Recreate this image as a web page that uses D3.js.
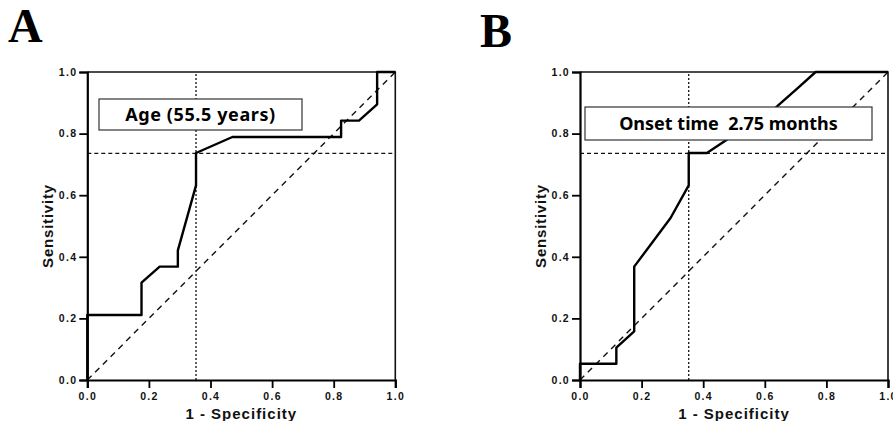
<!DOCTYPE html>
<html>
<head>
<meta charset="utf-8">
<script src="https://cdn.jsdelivr.net/npm/d3@7"></script>
<style>
  body { margin: 0; background: #fff; }
  svg { display: block; }
</style>
</head>
<body>
<div id="chart"></div>
<script>
// ROC curve A (age)
var fprA = [0, 0, 0.176, 0.176, 0.235, 0.294, 0.294, 0.353, 0.353, 0.471, 0.824, 0.824, 0.882, 0.941, 0.941, 1.0];
var tprA = [0, 0.211, 0.211, 0.316, 0.368, 0.368, 0.421, 0.632, 0.737, 0.789, 0.789, 0.842, 0.842, 0.895, 1.0, 1.0];

// ROC curve B (onset time)
var fprB = [0, 0, 0.118, 0.118, 0.176, 0.176, 0.294, 0.353, 0.353, 0.412, 0.49, 0.588, 0.647, 0.706, 0.765, 1.0];
var tprB = [0, 0.053, 0.053, 0.105, 0.158, 0.368, 0.526, 0.632, 0.737, 0.737, 0.789, 0.842, 0.895, 0.947, 1.0, 1.0];

// cut-off point shown by the crossing reference lines
var cutX = [0.353, 0.353];
var cutY = [0.736, 0.736];

var panelLetters = ["A", "B"];
var cutoffLabels = ["Age (55.5 years)", "Onset time  2.75 months"];
var tickValues = [0, 0.2, 0.4, 0.6, 0.8, 1.0];

var W = 893, H = 421;
var svg = d3.select("#chart").append("svg")
  .attr("width", W)
  .attr("height", H);

var panels = [
  {left: 87.3, letterX: 8, letterY: 42, box: [99, 99, 203, 31], fpr: fprA, tpr: tprA},
  {left: 580, letterX: 480, letterY: 47, box: [585, 107, 287, 33], fpr: fprB, tpr: tprB}
];
var plotTop = 72, size = 308;

panels.forEach(function(p, i) {
  var x = d3.scaleLinear().domain([0, 1]).range([p.left, p.left + size]);
  var y = d3.scaleLinear().domain([0, 1]).range([plotTop + size, plotTop]);
  var g = svg.append("g");

  // panel letter
  svg.append("text")
    .attr("x", p.letterX)
    .attr("y", p.letterY)
    .attr("font-family", "Liberation Serif, DejaVu Serif, serif")
    .attr("font-weight", "bold")
    .attr("font-size", 48)
    .text(panelLetters[i]);

  // frame top & right
  g.append("path")
    .attr("d", "M" + x(0) + "," + y(1) + "H" + x(1) + "V" + y(0))
    .attr("fill", "none")
    .attr("stroke", "#111")
    .attr("stroke-width", 1.6);

  // diagonal reference
  g.append("line")
    .attr("x1", x(0)).attr("y1", y(0))
    .attr("x2", x(1)).attr("y2", y(1))
    .attr("stroke", "#111")
    .attr("stroke-width", 1.4)
    .attr("stroke-dasharray", "6,5");

  // cut-off lines
  g.append("line")
    .attr("x1", x(cutX[i])).attr("y1", y(0))
    .attr("x2", x(cutX[i])).attr("y2", y(1))
    .attr("stroke", "#111")
    .attr("stroke-width", 1.3)
    .attr("stroke-dasharray", "2,2");
  g.append("line")
    .attr("x1", x(0)).attr("y1", y(cutY[i]))
    .attr("x2", x(1)).attr("y2", y(cutY[i]))
    .attr("stroke", "#111")
    .attr("stroke-width", 1.3)
    .attr("stroke-dasharray", "4,3");

  // ROC curve
  var pts = p.fpr.map(function(d, k) { return [d, p.tpr[k]]; });
  g.append("path")
    .datum(pts)
    .attr("d", d3.line().x(function(d) { return x(d[0]); }).y(function(d) { return y(d[1]); }))
    .attr("fill", "none")
    .attr("stroke", "#000")
    .attr("stroke-width", 2.4)
    .attr("stroke-linejoin", "round");

  // label box (opaque)
  g.append("rect")
    .attr("x", p.box[0]).attr("y", p.box[1])
    .attr("width", p.box[2]).attr("height", p.box[3])
    .attr("fill", "#fff")
    .attr("stroke", "#333")
    .attr("stroke-width", 1.2);
  g.append("text")
    .attr("x", p.box[0] + p.box[2] / 2)
    .attr("y", p.box[1] + p.box[3] / 2 + 6.5)
    .attr("text-anchor", "middle")
    .attr("font-family", "Noto Sans, sans-serif")
    .attr("font-weight", "bold")
    .attr("font-size", 18)
    .attr("letter-spacing", i === 0 ? 0.6 : 0)
    .style("white-space", "pre")
    .text(cutoffLabels[i]);

  // axes
  var xAxis = g.append("g")
    .attr("transform", "translate(0," + y(0) + ")")
    .call(d3.axisBottom(x).tickValues(tickValues).tickSize(8).tickPadding(5).tickFormat(d3.format(".1f")));
  var yAxis = g.append("g")
    .attr("transform", "translate(" + x(0) + ",0)")
    .call(d3.axisLeft(y).tickValues(tickValues).tickSize(8).tickPadding(2).tickFormat(d3.format(".1f")));
  [xAxis, yAxis].forEach(function(a) {
    a.select(".domain").attr("stroke", "#000").attr("stroke-width", 2.2);
    a.selectAll(".tick line").attr("stroke", "#000").attr("stroke-width", 1.8);
    a.selectAll(".tick text")
      .attr("fill", "#111")
      .attr("font-family", "Liberation Sans, Arial, sans-serif")
      .attr("font-weight", "bold")
      .attr("font-size", 10.5)
      .attr("letter-spacing", 1.3);
  });

  // axis titles
  g.append("text")
    .attr("x", (x(0) + x(1)) / 2)
    .attr("y", 419)
    .attr("text-anchor", "middle")
    .attr("font-family", "Liberation Sans, Arial, sans-serif")
    .attr("font-weight", "bold")
    .attr("font-size", 15)
    .attr("letter-spacing", 1)
    .attr("fill", "#111")
    .text("1 - Specificity");
  g.append("text")
    .attr("transform", "translate(" + (x(0) - 34) + "," + ((y(0) + y(1)) / 2) + ") rotate(-90)")
    .attr("text-anchor", "middle")
    .attr("font-family", "Liberation Sans, Arial, sans-serif")
    .attr("font-weight", "bold")
    .attr("font-size", 15)
    .attr("letter-spacing", 0.8)
    .attr("fill", "#111")
    .text("Sensitivity");
});
</script>
</body>
</html>
